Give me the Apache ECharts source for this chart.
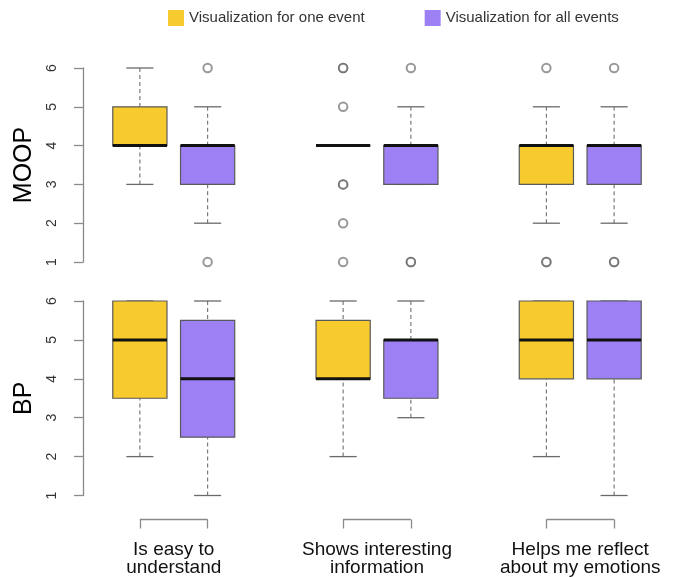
<!DOCTYPE html>
<html><head><meta charset="utf-8">
<script src="https://cdn.jsdelivr.net/npm/echarts@6/dist/echarts.min.js"></script>
<style>html,body{margin:0;padding:0;background:#fff}#c{width:675px;height:577px}</style>
</head><body><div id="c"></div>
<script>
// ---------- data ----------
const categories = ['Is easy to\nunderstand', 'Shows interesting\ninformation', 'Helps me reflect\nabout my emotions'];
const seriesNames = ['Visualization for one event', 'Visualization for all events'];
const panels = ['MOOP', 'BP'];
const yTicks = [1, 2, 3, 4, 5, 6];
// five-number summaries per category: [lower whisker, Q1, median, Q3, upper whisker]
const moopOne = [[3, 4, 4, 5, 6], [4, 4, 4, 4, 4], [2, 3, 4, 4, 5]];
const moopAll = [[2, 3, 4, 4, 5], [3, 3, 4, 4, 5], [2, 3, 4, 4, 5]];
const bpOne = [[2, 3.5, 5, 6, 6], [2, 4, 4, 5.5, 6], [2, 4, 5, 6, 6]];
const bpAll = [[1, 2.5, 4, 5.5, 6], [3, 3.5, 5, 5, 6], [1, 4, 5, 6, 6]];
// outliers: [category index, value]
const moopOneOut = [[1, 6], [1, 6], [1, 5], [1, 3], [1, 3], [1, 2], [1, 1], [2, 6], [2, 1], [2, 1]];
const moopAllOut = [[0, 6], [0, 1], [1, 6], [1, 1], [1, 1], [2, 6], [2, 1], [2, 1]];
const bpOneOut = [];
const bpAllOut = [];

const colors = ['#F7CB2D', '#9E80F5'];
const panelData = [[moopOne, moopAll], [bpOne, bpAll]];
const panelOut = [[moopOneOut, moopAllOut], [bpOneOut, bpAllOut]];
const bracketOffset = 24;

function pos(cat, s) { return cat * 3 + 1 + s; }

function renderBox(params, api) {
  const x = api.value(0);
  const lo = api.value(1), q1 = api.value(2), md = api.value(3), q3 = api.value(4), hi = api.value(5);
  const pLo = api.coord([x, lo]), pQ1 = api.coord([x, q1]), pMd = api.coord([x, md]),
        pQ3 = api.coord([x, q3]), pHi = api.coord([x, hi]);
  const xl = api.coord([x - 0.4, md])[0], xr = api.coord([x + 0.4, md])[0];
  const cl = api.coord([x - 0.2, md])[0], cr = api.coord([x + 0.2, md])[0];
  const whisk = { stroke: '#707070', lineWidth: 1.1, lineDash: [4, 3] };
  const cap = { stroke: '#6a6a6a', lineWidth: 1.3 };
  const ch = [];
  if (hi > q3) ch.push({ type: 'line', shape: { x1: pHi[0], y1: pHi[1], x2: pQ3[0], y2: pQ3[1] }, style: whisk });
  if (lo < q1) ch.push({ type: 'line', shape: { x1: pLo[0], y1: pLo[1], x2: pQ1[0], y2: pQ1[1] }, style: whisk });
  ch.push({ type: 'line', shape: { x1: cl, y1: pHi[1], x2: cr, y2: pHi[1] }, style: cap });
  ch.push({ type: 'line', shape: { x1: cl, y1: pLo[1], x2: cr, y2: pLo[1] }, style: cap });
  ch.push({ type: 'rect', shape: { x: xl, y: pQ3[1], width: xr - xl, height: pQ1[1] - pQ3[1] },
            style: { fill: api.visual('color'), stroke: '#5a5a5a', lineWidth: 1.2 } });
  ch.push({ type: 'line', shape: { x1: xl, y1: pMd[1], x2: xr, y2: pMd[1] }, style: { stroke: '#111', lineWidth: 3 } });
  return { type: 'group', children: ch };
}

function renderBracket(params, api) {
  const a = api.coord([api.value(0), 1]), b = api.coord([api.value(1), 1]);
  const y = params.coordSys.y + params.coordSys.height + bracketOffset;
  return { type: 'line', shape: { x1: a[0], y1: y, x2: b[0], y2: y }, style: { stroke: '#8a8a8a', lineWidth: 1.3 } };
}

const grids = [
  { left: 106, width: 542, top: 68, height: 194 },
  { left: 106, width: 542, top: 301, height: 195 }
];

const xAxes = [
  { gridIndex: 0, type: 'value', min: 0.5, max: 8.5, show: false },
  { gridIndex: 1, type: 'value', min: 0.5, max: 8.5, offset: bracketOffset,
    axisLine: { show: false }, splitLine: { show: false },
    axisTick: { show: true, customValues: [1, 2, 4, 5, 7, 8], length: 9, lineStyle: { color: '#8a8a8a', width: 1.3 } },
    axisLabel: { customValues: [1.5, 4.5, 7.5], formatter: v => categories[Math.round((v - 1.5) / 3)],
                 fontSize: 19, lineHeight: 18, color: '#111', margin: 21 } }
];

const yAxes = panels.map((p, i) => ({
  gridIndex: i, type: 'value', min: yTicks[0], max: yTicks[yTicks.length - 1], interval: 1, offset: 23,
  axisLine: { show: true, lineStyle: { color: '#8a8a8a', width: 1.3 } },
  axisTick: { show: true, length: 9, lineStyle: { color: '#8a8a8a', width: 1.3 } },
  axisLabel: { rotate: 90, fontSize: 14, color: '#333', margin: 24 },
  splitLine: { show: false },
  name: p, nameLocation: 'middle', nameRotate: 90, nameGap: 46,
  nameTextStyle: { fontSize: 25, color: '#000' }
}));

const series = [];
panels.forEach((p, i) => {
  [0, 1].forEach(s => {
    series.push({
      type: 'custom', name: seriesNames[s], xAxisIndex: i, yAxisIndex: i,
      itemStyle: { color: colors[s] }, clip: false, silent: true,
      encode: { x: 0, y: [1, 2, 3, 4, 5] },
      data: panelData[i][s].map((d, c) => [pos(c, s)].concat(d)),
      renderItem: renderBox
    });
  });
  [0, 1].forEach(s => {
    series.push({
      type: 'scatter', xAxisIndex: i, yAxisIndex: i, symbol: 'emptyCircle', symbolSize: 8.5,
      itemStyle: { color: '#555', borderWidth: 1, opacity: 0.6 }, clip: false, silent: true,
      data: panelOut[i][s].map(o => [pos(o[0], s), o[1]])
    });
  });
});
series.push({
  type: 'custom', xAxisIndex: 1, yAxisIndex: 1, clip: false, silent: true,
  data: categories.map((c, k) => [pos(k, 0), pos(k, 1)]),
  encode: { x: [0, 1] },
  renderItem: renderBracket
});

const chart = echarts.init(document.getElementById('c'), null, { renderer: 'canvas' });
chart.setOption({
  animation: false,
  textStyle: { fontFamily: 'Liberation Sans' },
  legend: {
    data: seriesNames, left: 163, top: 5, icon: 'rect', itemWidth: 16, itemHeight: 16, itemGap: 60,
    textStyle: { fontSize: 15, color: '#333' }, selectedMode: false
  },
  grid: grids, xAxis: xAxes, yAxis: yAxes, series: series
});
</script></body></html>
